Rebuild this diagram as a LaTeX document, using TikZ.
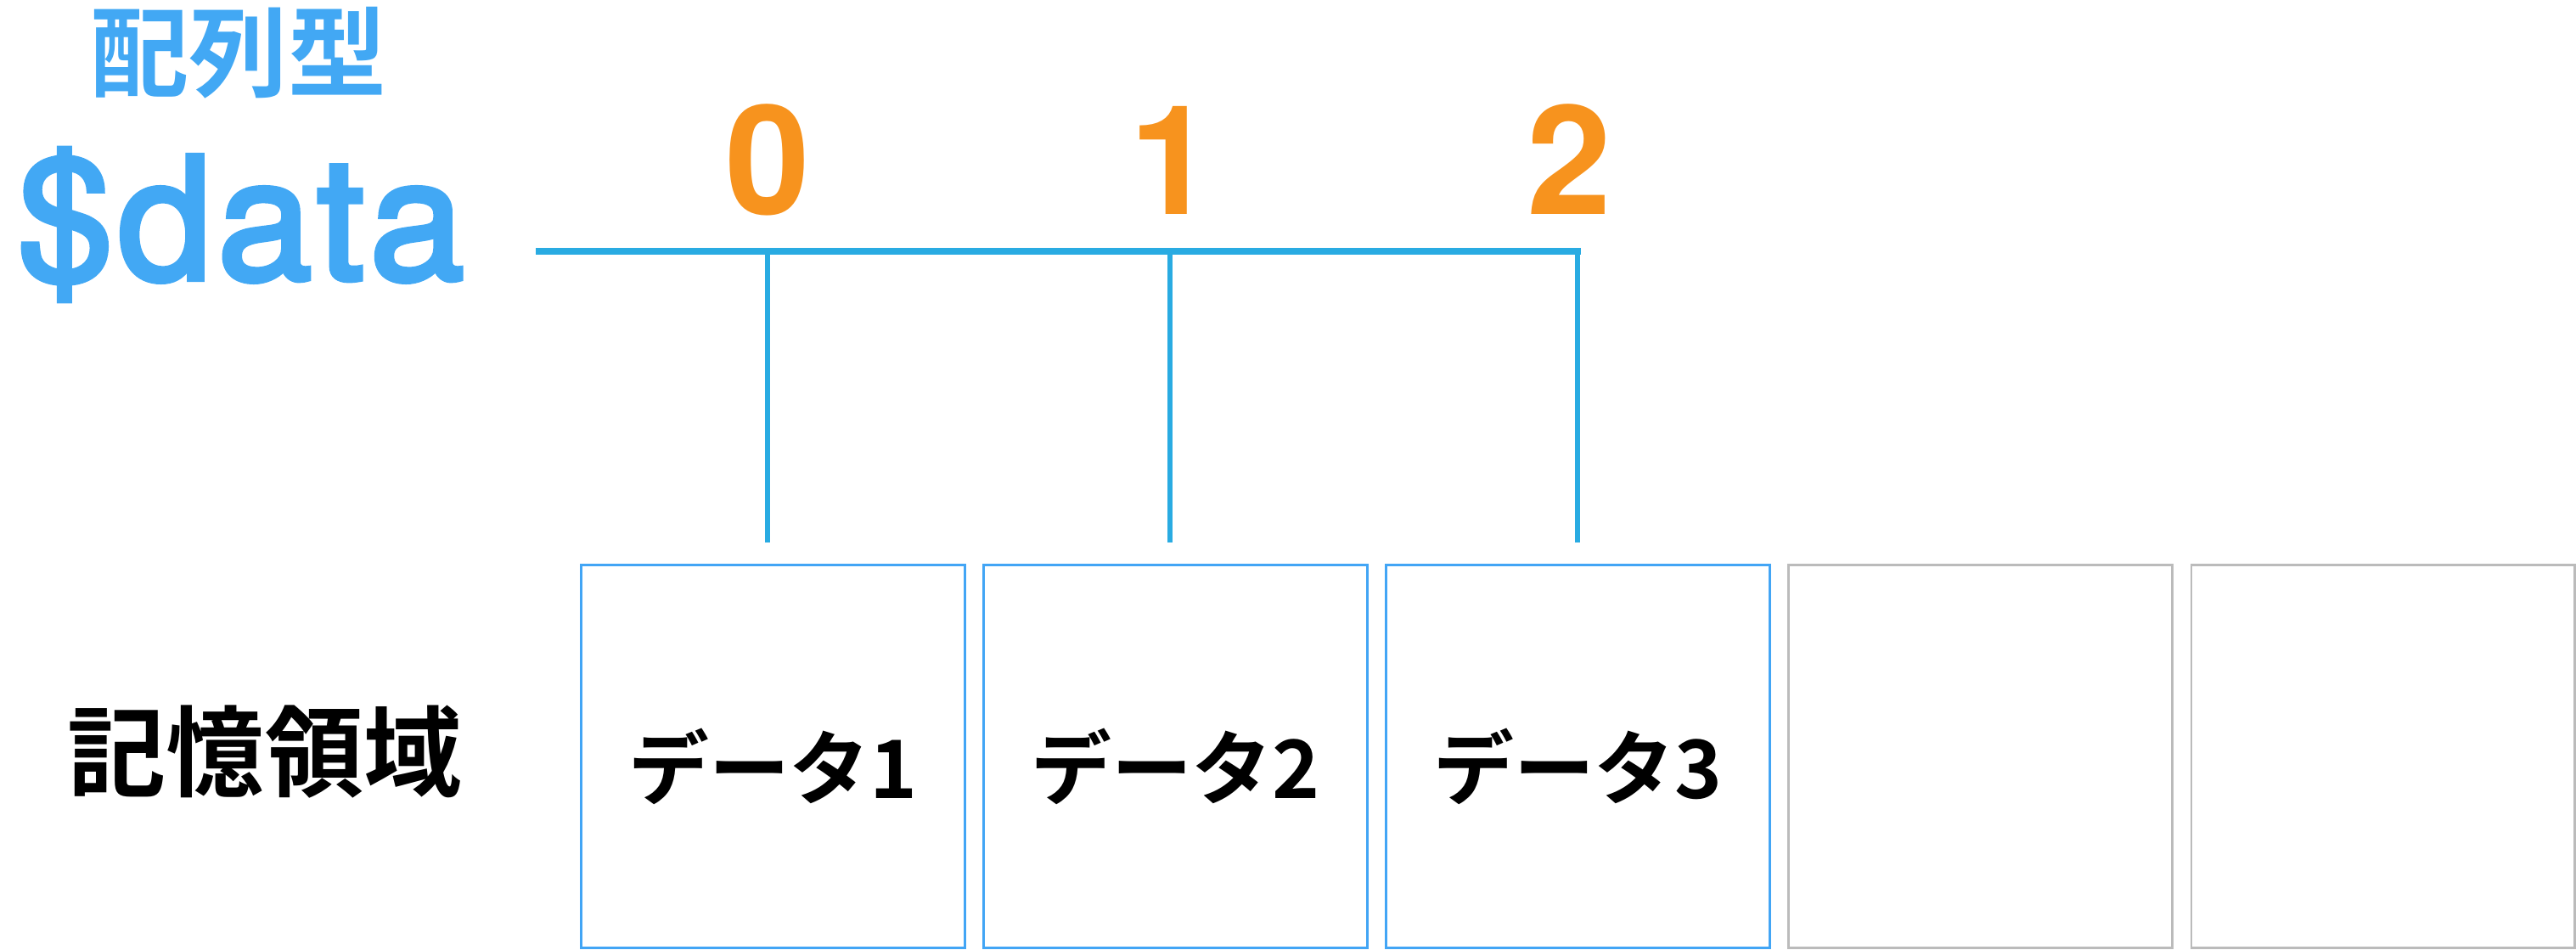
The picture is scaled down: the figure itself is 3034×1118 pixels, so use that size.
\documentclass[tikz,border=0pt]{standalone}
\usepackage{fontspec}
\setmainfont{Noto Sans CJK JP}[BoldFont={Noto Sans CJK JP Bold}]
\newfontfamily\latinfont{TeX Gyre Heros}
\newfontfamily\varfont{TeX Gyre Heros}[FakeBold=3,LetterSpace=3]
\usepackage{xcolor}
\usepackage{tikz}
\usetikzlibrary{positioning}

\definecolor{barblue}{RGB}{41,171,226}
\definecolor{txtblue}{RGB}{66,168,244}
\definecolor{cellblue}{RGB}{66,165,245}
\definecolor{cellgray}{RGB}{187,187,187}
\definecolor{idxorange}{RGB}{247,147,30}

\begin{document}
\begin{tikzpicture}[x=0.01cm,y=-0.01cm,
          cell/.style={draw=cellblue,line width=0.8pt,minimum width=4.51cm,minimum height=4.50cm,
                       inner sep=0pt,text height=31pt,text depth=3pt,font=\fontsize{27}{27}\selectfont\bfseries},
          spare/.style={cell,draw=cellgray},
          idx/.style={text=idxorange,inner sep=0pt,anchor=base,font=\latinfont\fontsize{51}{51}\selectfont\bfseries},
          bar/.style={draw=barblue,line width=2.5pt},
          ptr/.style={draw=barblue,line width=1.5pt}]
        \useasboundingbox (0,0) rectangle (3034,1118);
        % labels on the left
        \node[text=txtblue,inner sep=0pt,font=\fontsize{33}{33}\selectfont\bfseries] (type) at (281,62) {配列型};
        \node[text=txtblue,inner sep=0pt,anchor=base,font=\varfont\fontsize{57}{57}\selectfont] (var) at (284,329) {\$data};
        \node[inner sep=0pt,font=\fontsize{33}{33}\selectfont\bfseries] (mem) at (312,886) {記憶領域};
        % memory cells
        \node[cell]  (c1) at (910.5,891)  {データ1};
        \node[cell]  (c2) at (1384.5,891) {データ2};
        \node[cell]  (c3) at (1858.5,891) {データ3};
        \node[spare] (c4) at (2332.5,891) {};
        \node[spare] (c5) at (2806.5,891) {};
        % indices
        \node[idx] (i0) at (904,252)  {0};
        \node[idx] (i1) at (1380,252) {1};
        \node[idx] (i2) at (1848,252) {2};
        % the array bar and its pointers
        \coordinate (b0) at (631,296);
        \coordinate (b1) at (1862,296);
        \coordinate (p0) at (904,296);
        \coordinate (p1) at (1378,296);
        \coordinate (p2) at (1858,292);
        \coordinate (q0) at (904,639);
        \coordinate (q1) at (1378,639);
        \coordinate (q2) at (1858,639);
        \draw[bar] (b0)--(b1);
        \draw[ptr] (p0)--(q0);
        \draw[ptr] (p1)--(q1);
        \draw[ptr] (p2)--(q2);
      \end{tikzpicture}
\end{document}
